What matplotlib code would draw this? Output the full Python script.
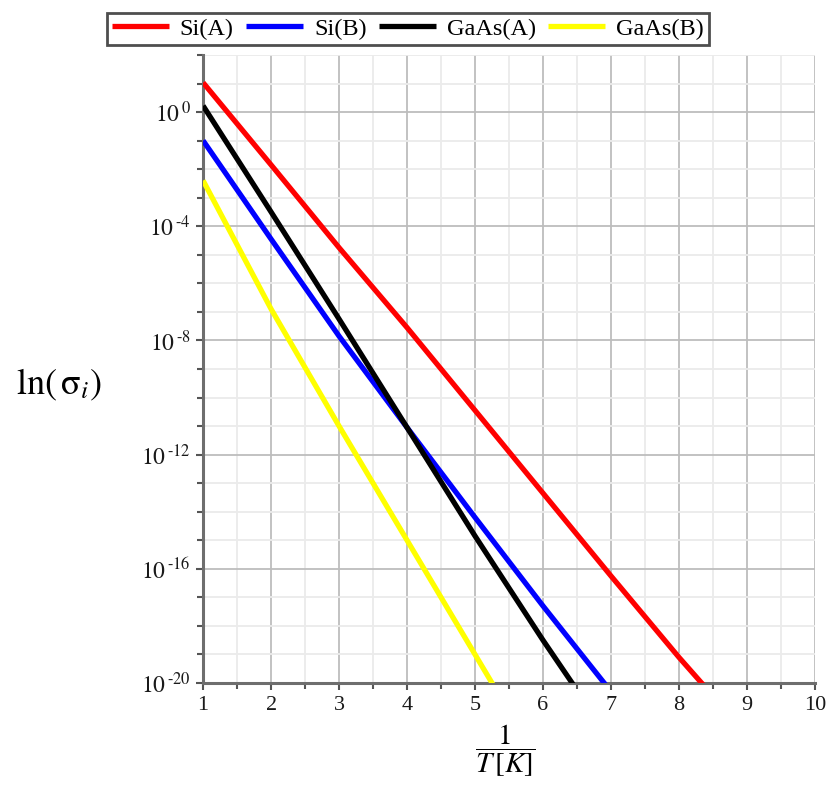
import numpy as np
import matplotlib
matplotlib.use("Agg")
import matplotlib.pyplot as plt
from matplotlib.ticker import FixedLocator, FuncFormatter

plt.rcParams['font.family'] = ['Liberation Serif', 'DejaVu Serif']
plt.rcParams['mathtext.fontset'] = 'stix'

# ---- data (log10 of sigma) ----
labels = ["Si(A)", "Si(B)", "GaAs(A)", "GaAs(B)"]
colors = ["#ff0000", "#0000ff", "#000000", "#ffff00"]

x_siA = [1, 2, 3, 4, 5, 6, 7, 8, 9]
log_siA = [1.03, -1.85, -4.75, -7.55, -10.45, -13.35, -16.25, -19.1, -21.8]

x_siB = [1, 2, 3, 4, 5, 6, 7]
log_siB = [-1.0, -4.45, -7.85, -11.05, -14.2, -17.3, -20.3]

x_gaA = [1, 2, 3, 4, 5, 6, 7]
log_gaA = [0.22, -3.5, -7.25, -11.05, -14.85, -18.5, -22.0]

x_gaB = [1, 2, 3, 4, 5, 6]
log_gaB = [-2.4, -6.9, -11.0, -15.0, -19.0, -23.0]

xs = [x_siA, x_siB, x_gaA, x_gaB]
ys = [log_siA, log_siB, log_gaA, log_gaB]

y_major = [0, -4, -8, -12, -16, -20]
x_ticks = [1, 2, 3, 4, 5, 6, 7, 8, 9, 10]

fig = plt.figure(figsize=(8.29, 7.93), dpi=100)
ax = fig.add_axes([0.245, 0.1387, 0.738, 0.792])

handles = []
for x, y, c, lab in zip(xs, ys, colors, labels):
    h, = ax.plot(x, 10.0 ** np.array(y), color=c, lw=3.8, label=lab,
                 solid_capstyle='butt', zorder=3)
    handles.append(h)

ax.set_yscale('log')
ax.set_xlim(1, 10)
ax.set_ylim(1e-20, 1e2)


def ylab(v, p):
    e = int(round(np.log10(v)))
    if e < 0:
        return r'$10^{\,\text{-}%d}$' % (-e)
    return r'$10^{\,%d}$' % e


ax.yaxis.set_major_locator(FixedLocator([10.0 ** v for v in y_major]))
ax.yaxis.set_minor_locator(FixedLocator([10.0 ** v for v in range(-19, 3) if v not in y_major]))
ax.yaxis.set_major_formatter(FuncFormatter(ylab))
ax.yaxis.set_minor_formatter(FuncFormatter(lambda v, p: ''))

ax.xaxis.set_major_locator(FixedLocator(x_ticks))
ax.xaxis.set_minor_locator(FixedLocator(np.arange(1.5, 10, 1.0)))

ax.grid(True, which='major', color='#bdbdbd', lw=1.3, zorder=0)
ax.grid(True, which='minor', color='#ebebeb', lw=1.3, zorder=0)
ax.set_axisbelow(True)

for s in ['top', 'right']:
    ax.spines[s].set_visible(False)
for s in ['left', 'bottom']:
    ax.spines[s].set_color('#6e6e6e')
    ax.spines[s].set_linewidth(2.2)

ax.tick_params(which='major', direction='out', length=5, width=1.5, color='#555555',
               labelsize=16, labelcolor='#1a1a1a', pad=4)
ax.tick_params(axis='y', which='major', labelsize=17)
ax.tick_params(which='minor', direction='out', length=4, width=1.5, color='#555555')

fig.text(0.610, 0.054, r'$\dfrac{1}{T\,[K]}$', ha='center', va='center', fontsize=21)
fig.text(0.071, 0.515, r'$\mathrm{ln}\left(\,\mathrm{σ}_{i}\right)$', ha='center', va='center', fontsize=26)

leg = fig.legend(handles=handles, labels=labels, loc='upper center',
                 bbox_to_anchor=(0.492, 0.999), ncol=4, fontsize=17.5,
                 frameon=True, fancybox=False, edgecolor='#222222',
                 handlelength=2.35, handletextpad=0.45, columnspacing=0.5,
                 borderpad=0.2)
leg.get_frame().set_linewidth(2)
for lh in leg.get_lines():
    lh.set_linewidth(3.8)

fig.savefig('out.png', dpi=100)
